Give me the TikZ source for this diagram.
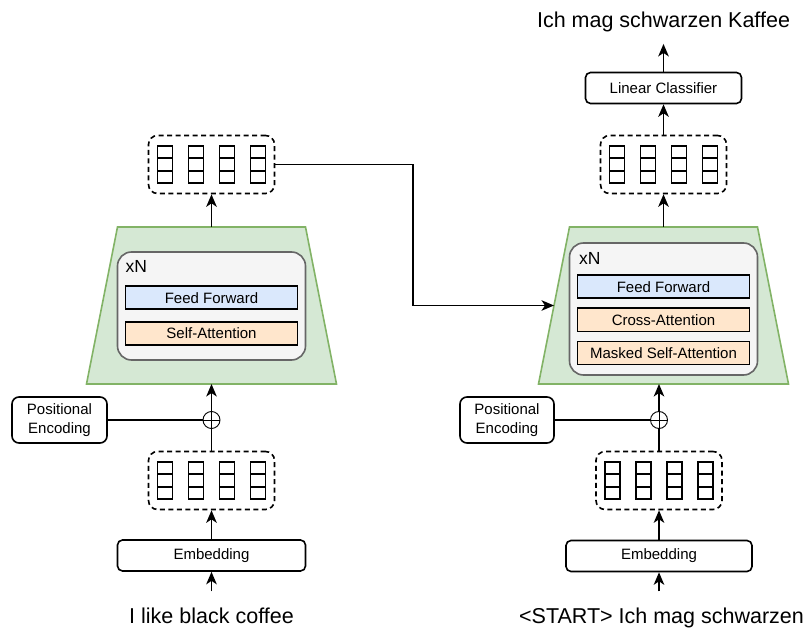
\documentclass[tikz,border=0pt]{standalone}
\usepackage{fontspec}
\setmainfont{Liberation Sans}
\usetikzlibrary{arrows.meta,positioning}
\definecolor{stackgreen}{HTML}{D5E8D4}
\definecolor{stackedge}{HTML}{82B366}
\definecolor{blockgray}{HTML}{F5F5F5}
\definecolor{blockedge}{HTML}{666666}
\definecolor{ffblue}{HTML}{DAE8FC}
\definecolor{attnorange}{HTML}{FFE6CC}
\newcommand{\boxfont}{\fontsize{15}{19.5}\selectfont}
\newcommand{\bigfont}{\fontsize{21.5}{26}\selectfont}
% four token vectors of three cells each, inside a dashed group
\newcommand{\tokvecs}[1]{%
    \foreach \i in {0,...,3}
        \foreach \j in {-1,0,1}
            \node[vcell] (#1-\i-\j) at ([shift={(-46.5+31*\i,12.5*\j)}]#1.center) {};
}
% green trapezoid of the layer stack: name, centre x, centre y
\newcommand{\stackshape}[3]{%
    \draw[stackbox] (#2-125,#3+78.5) -- (#2-94,#3-78.5) -- (#2+94,#3-78.5) -- (#2+125,#3+78.5) -- cycle;
    \coordinate (#1-top) at (#2,#3-78.5);
    \coordinate (#1-bottom) at (#2,#3+78.5);
    \coordinate (#1-left) at (#2-109.5,#3);
}

\begin{document}
\begin{tikzpicture}[x=1pt,y=-1pt,>={Stealth[length=12.5pt,width=10.5pt,inset=3.5pt]},line width=1.9pt,
    plainbox/.style={draw,line width=1.6pt,rounded corners=5pt,font=\boxfont,align=center,inner sep=0pt},
    vecgroup/.style={draw,line width=1.6pt,dash pattern=on 5pt off 3.5pt,rounded corners=9pt,minimum width=126pt,minimum height=58pt,inner sep=0pt},
    vcell/.style={draw,line width=1.6pt,minimum width=15pt,minimum height=12.5pt,inner sep=0pt},
    stackbox/.style={draw=stackedge,line width=1.6pt,fill=stackgreen},
    blockbox/.style={draw=blockedge,line width=1.6pt,fill=blockgray,rounded corners=14pt,minimum width=188pt,inner sep=0pt},
    layerbox/.style={draw,line width=1.6pt,minimum width=172pt,minimum height=23pt,inner sep=0pt,font=\boxfont},
    addnode/.style={circle,draw,line width=0.9pt,minimum size=17pt,inner sep=0pt,
        path picture={\draw[line width=0.9pt] (path picture bounding box.north) -- (path picture bounding box.south)
            (path picture bounding box.west) -- (path picture bounding box.east);}},
    phrasetext/.style={font=\bigfont,inner xsep=0pt,inner ysep=15pt}]
    \useasboundingbox (0,0) rectangle (811,628);

    % encoder
    \node[phrasetext,anchor=base] (src) at (211.5,623) {I like black coffee};
    \node[plainbox,minimum width=188pt,minimum height=31pt] (emb) at (211.5,555.5) {Embedding};
    \node[vecgroup] (encin) at (211.5,480.5) {};
    \tokvecs{encin}
    \node[addnode] (encadd) at (211.5,420) {};
    \node[plainbox,minimum width=95pt,minimum height=46pt,rounded corners=7pt] (pe) at (59.5,420) {Positional\\Encoding};
    \stackshape{enc}{211.5}{305.5}
    \node[blockbox,minimum height=108pt] (encblk) at (211.5,306) {};
    \node[anchor=north west,inner sep=0pt,font=\fontsize{17.5}{20}\selectfont] (encn) at ([shift={(8,8.5)}]encblk.north west) {xN};
    \node[layerbox,fill=ffblue] (encff) at (211.5,297.7) {Feed Forward};
    \node[layerbox,fill=attnorange,below=11pt of encff] (encsa) {Self-Attention};
    \node[vecgroup] (encout) at (211.5,164.5) {};
    \tokvecs{encout}

    \draw[->] (src) -- (emb);
    \draw[->] (emb) -- (encin);
    \draw (encin) -- (encadd);
    \draw (pe) -- (encadd);
    \draw[->] (encadd) -- (enc-bottom);
    \draw[->] (enc-top) -- (encout);

    % decoder
    \node[phrasetext,anchor=base] (tgt) at (661.5,623) {<START> Ich mag schwarzen};
    \node[plainbox,minimum width=186pt,minimum height=31pt] (demb) at (659,556) {Embedding};
    \node[vecgroup] (decin) at (659,480.5) {};
    \tokvecs{decin}
    \node[addnode] (decadd) at (659,420) {};
    \node[plainbox,minimum width=94pt,minimum height=46pt,rounded corners=7pt] (dpe) at (507,420) {Positional\\Encoding};
    \stackshape{dec}{663.5}{305.5}
    \node[blockbox,minimum height=132pt] (decblk) at (663.5,309) {};
    \node[anchor=north west,inner sep=0pt,font=\fontsize{17.5}{20}\selectfont] (decn) at ([shift={(9.5,9)}]decblk.north west) {xN};
    \node[layerbox,fill=ffblue] (decff) at (663.5,286.7) {Feed Forward};
    \node[layerbox,fill=attnorange,below=8.5pt of decff] (decca) {Cross-Attention};
    \node[layerbox,fill=attnorange,below=8.5pt of decca] (decmsa) {Masked Self-Attention};
    \node[vecgroup] (decout) at (663.5,164.5) {};
    \tokvecs{decout}
    \node[plainbox,minimum width=156pt,minimum height=31pt] (lc) at (663.5,88) {Linear Classifier};
    \node[phrasetext,anchor=base,inner ysep=11pt] (out) at (663.5,27.5) {Ich mag schwarzen Kaffee};
    \coordinate (bend) at (413,164.5);

    \draw[->] (tgt.north -| demb.south) -- (demb);
    \draw[->] (demb) -- (decin);
    \draw (decin) -- (decadd);
    \draw (dpe) -- (decadd);
    \draw[->] (decadd) -- (decadd |- dec-bottom);
    \draw[->] (dec-top) -- (decout);
    \draw[->] (decout) -- (lc);
    \draw[->] (lc) -- (out);
    \draw[->] (encout) -- (bend) |- (dec-left);
\end{tikzpicture}
\end{document}
